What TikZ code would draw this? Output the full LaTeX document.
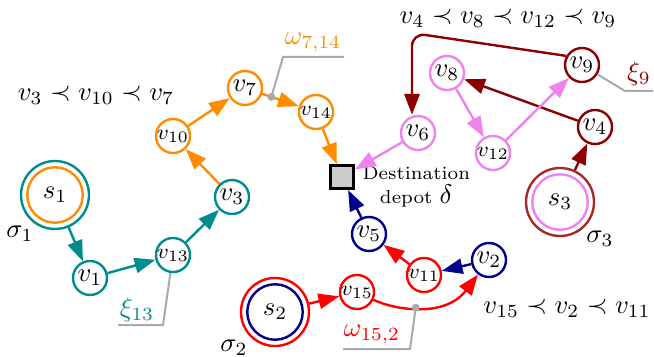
\documentclass[tikz,border=0pt]{standalone}
\usetikzlibrary{arrows.meta}
\definecolor{cteal}{RGB}{0,140,140}
\definecolor{corange}{RGB}{255,140,0}
\definecolor{cred}{RGB}{255,0,0}
\definecolor{cnavy}{RGB}{0,0,140}
\definecolor{cviolet}{RGB}{238,130,238}
\definecolor{cdarkred}{RGB}{139,0,0}
\definecolor{cbrown}{RGB}{165,42,42}
\definecolor{cgray}{RGB}{170,170,170}
\begin{document}
\begin{tikzpicture}[x=0.375pt,y=-0.375pt,
  vtx/.style={circle,draw=#1,line width=0.9pt,minimum size=12.75pt,inner sep=0pt,fill=white},
  src/.style={circle,draw=#1,line width=0.9pt,minimum size=25.5pt,inner sep=0pt},
  srcin/.style={circle,draw=#1,line width=0.9pt,minimum size=20.8pt,inner sep=0pt},
  arr/.style={draw=#1,line width=0.9pt,-{Triangle[length=7.8pt,width=5.7pt]}},
  lead/.style={draw=cgray,line width=0.75pt},
  gdot/.style={circle,fill=cgray,inner sep=0pt,minimum size=3pt},
  depot/.style={rectangle,draw=black,line width=1.1pt,fill=black!20,minimum size=8.6pt,inner sep=0pt}]
\useasboundingbox (0,0) rectangle (654,356);

% sources
\node[src=cteal] (s1) at (55,195) {$s_1$};
\node[srcin=corange] (s1i) at (s1) {};
\node[src=cred] (s2) at (275,312) {$s_2$};
\node[srcin=cnavy] (s2i) at (s2) {};
\node[src=cbrown] (s3) at (560,202) {$s_3$};
\node[srcin=cviolet] (s3i) at (s3) {};

% depot
\node[depot] (dep) at (342,177) {};
\node[align=center,font=\scriptsize,inner sep=0pt,anchor=west] (deplbl) at (362,187) {Destination\\[1pt]depot \normalsize$\delta$};

% vertices
\node[vtx=cteal] (v1) at (90,278) {$v_1$};
\node[vtx=cteal] (v13) at (173,255) {\footnotesize$v_{13}$};
\node[vtx=cteal] (v3) at (232,197) {$v_3$};
\node[vtx=corange] (v10) at (173,136) {\footnotesize$v_{10}$};
\node[vtx=corange] (v7) at (245,88) {$v_7$};
\node[vtx=corange] (v14) at (316,112) {\footnotesize$v_{14}$};
\node[vtx=cviolet] (v6) at (418,133) {$v_6$};
\node[vtx=cviolet] (v8) at (447,73) {$v_8$};
\node[vtx=cviolet] (v12) at (493,153) {\footnotesize$v_{12}$};
\node[vtx=cdarkred] (v9) at (582,65) {$v_9$};
\node[vtx=cdarkred] (v4) at (595,127) {$v_4$};
\node[vtx=cnavy] (v5) at (369,234) {$v_5$};
\node[vtx=cred] (v11) at (424,275) {\footnotesize$v_{11}$};
\node[vtx=cnavy] (v2) at (489,260) {$v_2$};
\node[vtx=cred] (v15) at (357,292) {\footnotesize$v_{15}$};

% route 1
\draw[arr=cteal] (s1) -- (v1);
\draw[arr=cteal] (v1) -- (v13);
\draw[arr=cteal] (v13) -- (v3);
\draw[arr=corange] (v3) -- (v10);
\draw[arr=corange] (v10) -- (v7);
\draw[arr=corange] (v7) -- (v14) coordinate[pos=0.25] (w714);
\draw[arr=corange] (v14) -- (dep);

% route 3
\coordinate (c96) at (412,33);
\draw[arr=cdarkred] (s3) -- (v4);
\draw[arr=cdarkred] (v4) -- (v8);
\draw[arr=cviolet] (v8) -- (v12);
\draw[arr=cviolet] (v12) -- (v9);
\draw[arr=cdarkred,rounded corners=5pt] (v9.150) -- (c96) -- (c96 |- v6.north);
\draw[arr=cviolet] (v6) -- (dep);

% route 2
\draw[arr=cred] (s2) -- (v15);
\draw[arr=cred] (v15) .. controls (395,310) and (445,318) .. (v2) coordinate[pos=0.45] (w152);
\draw[arr=cnavy] (v2) -- (v11);
\draw[arr=cred] (v11) -- (v5);
\draw[arr=cnavy] (v5) -- (dep);

% leaders
\coordinate (a1) at (283,57); \coordinate (a2) at (344,57);
\draw[lead] (w714) -- (a1) -- (a2);
\coordinate (b1) at (410,349); \coordinate (b2) at (343,349);
\draw[lead] (w152) -- (b1) -- (b2);
\coordinate (e1) at (163,325); \coordinate (e2) at (118,325);
\draw[lead] (v13) -- (e1) -- (e2);
\coordinate (f1) at (625,91); \coordinate (f2) at (653,91);
\draw[lead] (v9) -- (f1) -- (f2);
\node[gdot] (d714) at (w714) {};
\node[gdot] (d152) at (w152) {};

% labels
\node[text=corange] (lw714) at (313,43) {$\omega_{7,14}$};
\node[text=cred] (lw152) at (372,335) {$\omega_{15,2}$};
\node[text=cteal] (lx13) at (137,310) {$\xi_{13}$};
\node[text=cdarkred] (lx9) at (639,74) {$\xi_{9}$};
\node (sig1) at (20,234) {$\sigma_1$};
\node (sig2) at (234,348) {$\sigma_2$};
\node (sig3) at (600,239) {$\sigma_3$};
\node (ord1) at (96,95) {$v_3 \prec v_{10} \prec v_7$};
\node (ord3) at (508,18) {$v_4 \prec v_8 \prec v_{12} \prec v_9$};
\node (ord2) at (567,308) {$v_{15} \prec v_2 \prec v_{11}$};
\end{tikzpicture}
\end{document}
